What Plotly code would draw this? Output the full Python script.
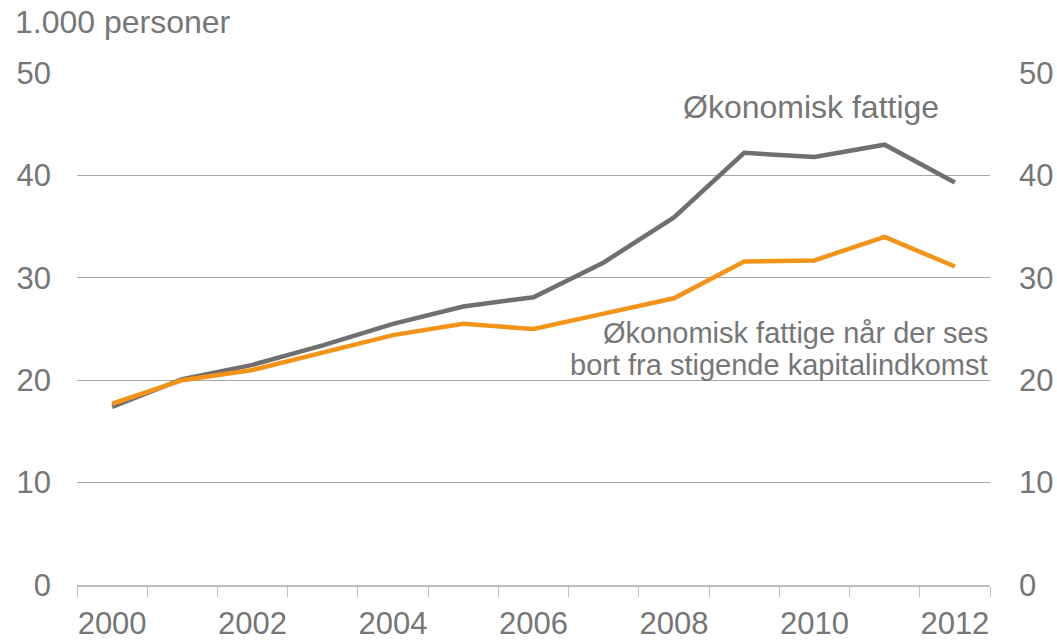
import plotly.graph_objects as go

years = list(range(2000, 2013))
fattige = [17.4, 20.1, 21.5, 23.4, 25.5, 27.2, 28.1, 31.5, 35.9, 42.2, 41.8, 43.0, 39.3]
fattige_uden_kap = [17.7, 20.0, 21.0, 22.7, 24.4, 25.5, 25.0, 26.5, 28.0, 31.6, 31.7, 34.0, 31.1]
y_ticks = [0, 10, 20, 30, 40, 50]
x_ticks = [2000, 2002, 2004, 2006, 2008, 2010, 2012]

txt = "#767676"
font = "Liberation Sans, Arial, sans-serif"
fs = 31

fig = go.Figure()
fig.add_trace(go.Scatter(x=years, y=fattige, mode="lines",
                         line=dict(color="#6f6f6f", width=4.5), showlegend=False))
fig.add_trace(go.Scatter(x=years, y=fattige_uden_kap, mode="lines",
                         line=dict(color="#F39419", width=4.5), showlegend=False))
# invisible trace for right axis
fig.add_trace(go.Scatter(x=years, y=fattige, mode="lines", yaxis="y2",
                         line=dict(width=0), opacity=0, hoverinfo="skip", showlegend=False))

fig.update_layout(
    width=1057, height=640,
    margin=dict(l=77, r=67, t=73, b=55, autoexpand=False),
    plot_bgcolor="white", paper_bgcolor="white",
    font=dict(family=font, size=fs, color=txt),
    xaxis=dict(range=[1999.5, 2012.5], tickvals=x_ticks, ticktext=[str(v) for v in x_ticks],
               ticks="", showgrid=False, zeroline=False, automargin=False,
               showline=True, linecolor="#bfbfbf", linewidth=1.5,
               ticklabelstandoff=10,
               minor=dict(tick0=1999.5, dtick=1, ticks="outside", ticklen=10,
                          tickcolor="#bfbfbf", tickwidth=1, showgrid=False),
               tickfont=dict(size=fs, color=txt)),
    yaxis=dict(range=[0, 50], tickvals=y_ticks, showgrid=True, gridcolor="#a6a6a6", gridwidth=1,
               zeroline=False, ticks="", ticklabelstandoff=25, automargin=False,
               tickfont=dict(size=fs, color=txt)),
    yaxis2=dict(range=[0, 50], tickvals=y_ticks, overlaying="y", side="right",
                showgrid=False, zeroline=False, ticks="", ticklabelstandoff=28, automargin=False,
                tickfont=dict(size=fs, color=txt)),
    annotations=[
        dict(text="1.000 personer", xref="paper", yref="paper", x=-0.07, y=1.0,
             xanchor="left", yanchor="bottom", yshift=31, showarrow=False,
             font=dict(size=32, color=txt)),
        dict(text="Økonomisk fattige", x=2009.95, y=46.7, xanchor="center", yanchor="middle",
             showarrow=False, font=dict(size=32, color=txt)),
        dict(text="Økonomisk fattige når der ses", x=2012.5, y=24.6, xanchor="right",
             yanchor="middle", showarrow=False, font=dict(size=29, color=txt)),
        dict(text="bort fra stigende kapitalindkomst", x=2012.5, y=21.5, xanchor="right",
             yanchor="middle", showarrow=False, font=dict(size=29, color=txt)),
    ],
)

fig.write_html("out.html", config={"displayModeBar": False},
               post_script="document.body.style.margin='0';document.body.style.overflow='hidden';")
